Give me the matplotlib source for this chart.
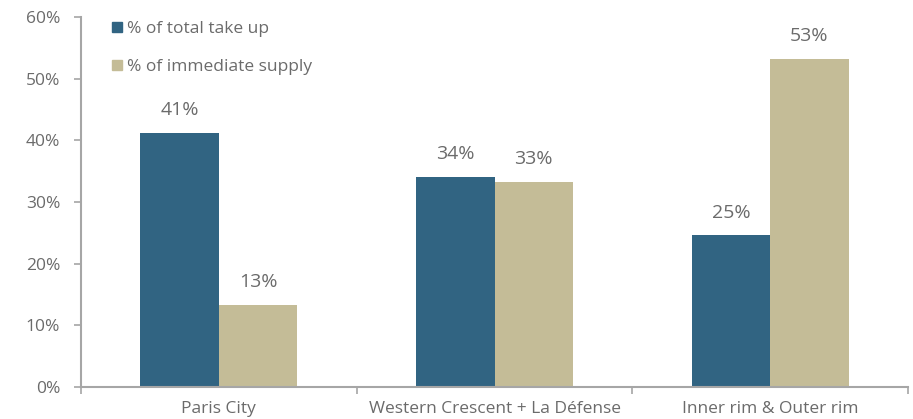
import matplotlib
matplotlib.use("Agg")
import matplotlib.pyplot as plt
from matplotlib.lines import Line2D
import numpy as np

categories = ["Paris City", "Western Crescent + La Défense", "Inner rim & Outer rim"]
take_up = [41.2, 34.1, 24.6]
supply = [13.3, 33.3, 53.2]
take_up_labels = ["41%", "34%", "25%"]
supply_labels = ["13%", "33%", "53%"]
series_names = ["% of total take up", "% of immediate supply"]
yticks = [0, 10, 20, 30, 40, 50, 60]

c_blue = "#316482"
c_tan = "#c4bc97"
c_text = "#6b6b6b"
c_axis = "#a6a6a6"

plt.rcParams['font.family'] = ['Open Sans', 'DejaVu Sans']

fig = plt.figure(figsize=(9.13, 4.19), dpi=100)
ax = fig.add_axes([81/913, 1-387/419, (908-81)/913, (387-17)/419])

x = np.arange(len(categories))
w = 0.285
ax.bar(x - w/2, take_up, width=w, color=c_blue)
ax.bar(x + w/2, supply, width=w, color=c_tan)
for xi, v, lab in zip(x, take_up, take_up_labels):
    ax.text(xi - w/2, v + 2.2, lab, ha="center", va="bottom", fontsize=14, color=c_text)
for xi, v, lab in zip(x, supply, supply_labels):
    ax.text(xi + w/2, v + 2.2, lab, ha="center", va="bottom", fontsize=14, color=c_text)

ax.set_xlim(-0.5, len(categories) - 0.5)
ax.set_ylim(0, 60)
ax.set_yticks(yticks)
ax.set_yticklabels([f"{t}%" for t in yticks])
ax.set_xticks(x)
ax.set_xticklabels(categories)
ax.set_xticks(np.arange(len(categories) + 1) - 0.5, minor=True)
ax.tick_params(axis="x", which="major", length=0, pad=10, labelsize=12.5, labelcolor=c_text)
ax.tick_params(axis="x", which="minor", length=5, width=1.2, color=c_axis, direction="out")
ax.tick_params(axis="y", length=5, width=1.2, color=c_axis, labelsize=12.5, labelcolor=c_text, pad=10)

for s in ["top", "right"]:
    ax.spines[s].set_visible(False)
for s in ["left", "bottom"]:
    ax.spines[s].set_color(c_axis)
    ax.spines[s].set_linewidth(1.5)

handles = [Line2D([], [], marker="s", linestyle="none", markersize=7.5, color=c_blue),
           Line2D([], [], marker="s", linestyle="none", markersize=7.5, color=c_tan)]
leg = ax.legend(handles, series_names, loc="upper left", bbox_to_anchor=(0.029, 1.009),
                frameon=False, fontsize=12.5, handlelength=0.6, handletextpad=0.25,
                labelspacing=1.3, labelcolor=c_text, borderaxespad=0)

fig.savefig("out.png", dpi=100)
